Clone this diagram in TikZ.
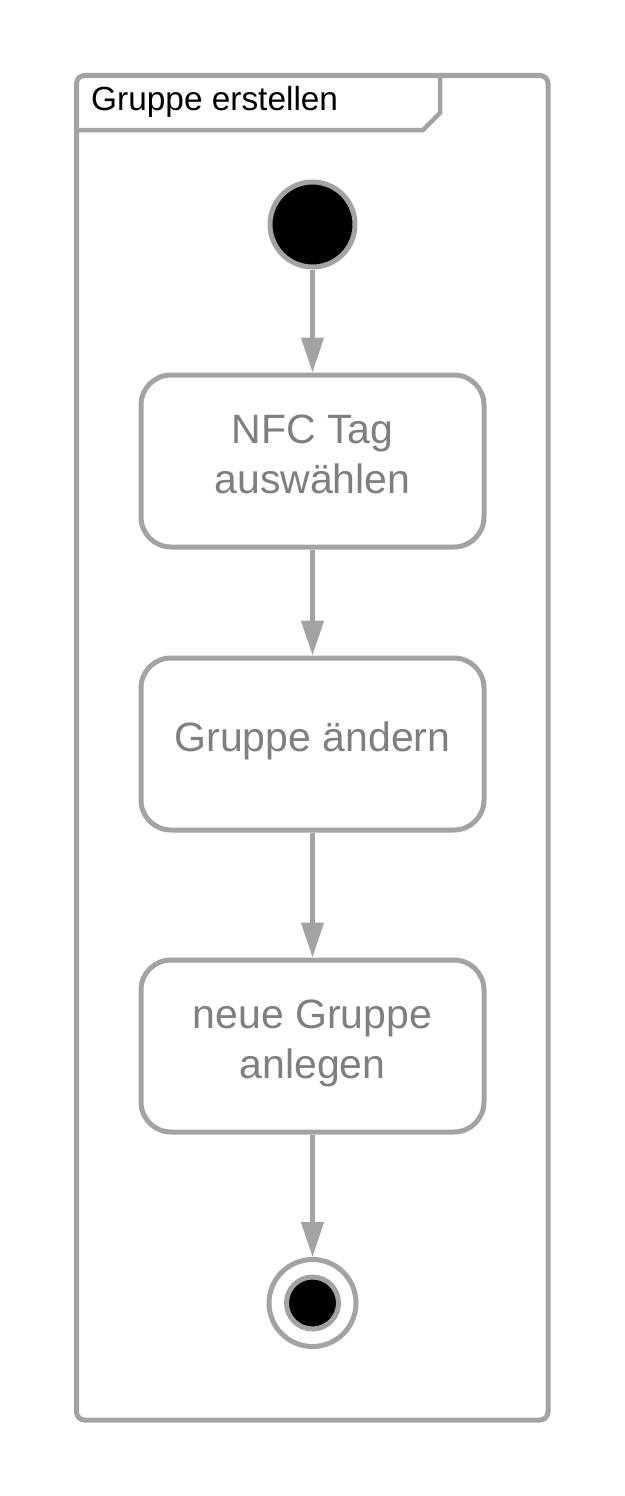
\documentclass[tikz,border=0pt]{standalone}
\usepackage{fontspec}
\setmainfont{Liberation Sans}
\usetikzlibrary{arrows.meta}
\definecolor{linegray}{HTML}{A3A3A3}
\definecolor{textgray}{HTML}{7F7F7F}
\begin{document}
\begin{tikzpicture}[x=1pt,y=-1pt,
  frame/.style={draw=linegray, line width=5pt, rounded corners=8pt},
  tabline/.style={draw=linegray, line width=4.5pt},
  action/.style={draw=linegray, line width=5pt, rounded corners=30pt, fill=white,
    minimum width=343pt, minimum height=172pt, inner sep=0pt, text=textgray,
    align=center, font=\fontsize{41}{50}\selectfont},
  oneline/.style={text height=25pt, text depth=10pt},
  twoline/.style={text height=72pt, text depth=8pt},
  initial/.style={circle, draw=linegray, fill=black, line width=5pt, minimum size=85pt, inner sep=0pt},
  finalouter/.style={circle, draw=linegray, fill=white, line width=5pt, minimum size=87pt, inner sep=0pt},
  finalinner/.style={circle, draw=linegray, fill=black, line width=5pt, minimum size=52pt, inner sep=0pt},
  flow/.style={draw=linegray, line width=4.5pt, -{Triangle[length=35pt,width=22pt]}}
]
\useasboundingbox (0,0) rectangle (624,1496);
% frame
\draw[frame] (76.5,75.5) rectangle (548,1420);
\draw[tabline] (76.5,130) -- (423,130) -- (440,113) -- (440,75.5);
\node[anchor=base west, inner sep=0pt, font=\fontsize{33.4}{40}\selectfont] (title) at (91,110) {Gruppe erstellen};
% nodes
\node[initial] (start) at (312.5,224.5) {};
\node[action, twoline] (a1) at (312.5,461) {NFC Tag\\auswählen};
\node[action, oneline] (a2) at (312.5,744) {Gruppe ändern};
\node[action, twoline] (a3) at (312.5,1046) {neue Gruppe\\anlegen};
\node[finalouter] (end) at (312.5,1303) {};
\node[finalinner] (endin) at (end.center) {};
% flows
\draw[flow] (start) -- (a1);
\draw[flow] (a1) -- (a2);
\draw[flow] (a2) -- (a3);
\draw[flow] (a3) -- (end);
\end{tikzpicture}
\end{document}
